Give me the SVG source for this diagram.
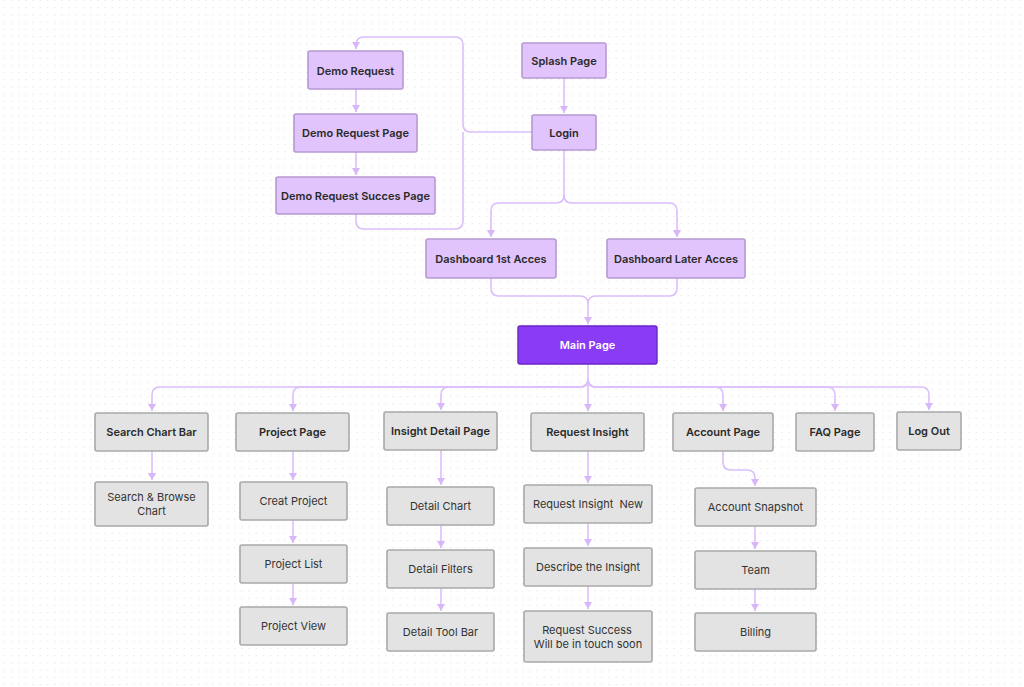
<svg xmlns="http://www.w3.org/2000/svg" width="1024" height="687" viewBox="0 0 1024 687">
<defs>
<pattern id="dots" x="0" y="0" width="7.2" height="7.2" patternUnits="userSpaceOnUse">
<circle cx="4.3" cy="0.4" r="0.65" fill="#e2e2e2"/>
</pattern>
<marker id="arr" markerUnits="userSpaceOnUse" markerWidth="8" markerHeight="8" refX="7" refY="4" orient="auto">
<path d="M0,0 L7,4 L0,8 z" fill="#d7b6fa"/>
</marker>
<style>
.p rect{fill:#e0c4fb;stroke:#b898d2;stroke-width:1.6}
.g rect{fill:#e3e3e3;stroke:#a9a9a9;stroke-width:1.6}
.m rect{fill:#8a3bf6;stroke:#6b25c8;stroke-width:1.4}
text{font-family:Inter,"Noto Sans","Liberation Sans",sans-serif;font-size:11px;text-anchor:middle;dominant-baseline:central}
.p text,.g.b text{font-weight:600;fill:#2a2a2a}
.g text{fill:#333}
.m text{font-weight:600;fill:#fff}
#connectors path{fill:none;stroke:#dcbefb;stroke-width:1.6}
#connectors path.a{marker-end:url(#arr)}
</style>
</defs>
<rect width="1024" height="687" fill="#ffffff"/>
<rect width="1024" height="687" fill="url(#dots)"/>

<g id="connectors">
<path class="a" d="M532,132 H471 Q463,132 463,124 V45 Q463,37 455,37 H364 Q356,37 356,45 V49"/>
<path d="M356,214 V221 Q356,229 364,229 H455 Q463,229 463,221 V132"/>
<path class="a" d="M356,89 V112"/>
<path class="a" d="M356,152 V175"/>
<path class="a" d="M564,78 V113"/>
<path class="a" d="M564,150 V195 Q564,203 556,203 H499 Q491,203 491,211 V237"/>
<path class="a" d="M564,195 Q564,203 572,203 H669 Q677,203 677,211 V237"/>
<path class="a" d="M491,278 V288 Q491,296 499,296 H580 Q588,296 588,304 V324"/>
<path d="M677,278 V288 Q677,296 669,296 H596 Q588,296 588,304"/>
<path class="a" d="M588,364 V411"/>
<path class="a" d="M588,379 Q588,387 580,387 H160 Q152,387 152,395 V411"/>
<path class="a" d="M588,379 Q588,387 580,387 H301 Q293,387 293,395 V411"/>
<path class="a" d="M588,379 Q588,387 580,387 H449 Q441,387 441,395 V410"/>
<path class="a" d="M588,379 Q588,387 596,387 H715 Q723,387 723,395 V411"/>
<path class="a" d="M588,379 Q588,387 596,387 H827 Q835,387 835,395 V411"/>
<path class="a" d="M588,379 Q588,387 596,387 H921 Q929,387 929,395 V410"/>
<path class="a" d="M152,451 V480"/>
<path class="a" d="M293,451 V480"/>
<path class="a" d="M293,520 V543"/>
<path class="a" d="M293,583 V605"/>
<path class="a" d="M441,450 V485"/>
<path class="a" d="M441,525 V548"/>
<path class="a" d="M441,588 V611"/>
<path class="a" d="M588,451 V483"/>
<path class="a" d="M588,523 V546"/>
<path class="a" d="M588,586 V609"/>
<path class="a" d="M723,451 V462 Q723,470 731,470 H747 Q755,470 755,478 V486"/>
<path class="a" d="M755,526 V549"/>
<path class="a" d="M755,589 V611"/>
</g>

<g id="demo-request" class="p"><rect x="308" y="51" width="95" height="38" rx="2"/><text x="355.5" y="70.5">Demo Request</text></g>
<g id="splash-page" class="p"><rect x="522" y="43" width="84" height="35" rx="2"/><text x="564" y="60.5">Splash Page</text></g>
<g id="demo-request-page" class="p"><rect x="294" y="114" width="123" height="38" rx="2"/><text x="355.5" y="133">Demo Request Page</text></g>
<g id="login" class="p"><rect x="532" y="115" width="64" height="35" rx="2"/><text x="564" y="132.5">Login</text></g>
<g id="demo-request-succes-page" class="p"><rect x="276" y="177" width="159" height="37" rx="2"/><text x="355.5" y="196">Demo Request Succes Page</text></g>
<g id="dashboard-1st" class="p"><rect x="426" y="239" width="130" height="39" rx="2"/><text x="491" y="258.5">Dashboard 1st Acces</text></g>
<g id="dashboard-later" class="p"><rect x="607" y="239" width="138" height="39" rx="2"/><text x="676" y="258.5">Dashboard Later Acces</text></g>
<g id="main-page" class="m"><rect x="518" y="326" width="139" height="38" rx="2"/><text x="587.5" y="345">Main Page</text></g>

<g id="search-chart-bar" class="g b"><rect x="95" y="413" width="113" height="38" rx="2"/><text x="151.5" y="432">Search Chart Bar</text></g>
<g id="project-page" class="g b"><rect x="236" y="413" width="113" height="38" rx="2"/><text x="292.5" y="432">Project Page</text></g>
<g id="insight-detail-page" class="g b"><rect x="384" y="412" width="113" height="38" rx="2"/><text x="440.5" y="431">Insight Detail Page</text></g>
<g id="request-insight" class="g b"><rect x="531" y="413" width="113" height="38" rx="2"/><text x="587.5" y="432">Request Insight</text></g>
<g id="account-page" class="g b"><rect x="673" y="413" width="100" height="38" rx="2"/><text x="723" y="432">Account Page</text></g>
<g id="faq-page" class="g b"><rect x="796" y="413" width="78" height="38" rx="2"/><text x="835" y="432">FAQ Page</text></g>
<g id="log-out" class="g b"><rect x="897" y="412" width="64" height="38" rx="2"/><text x="929" y="431">Log Out</text></g>

<g id="search-browse-chart" class="g"><rect x="95" y="482" width="113" height="44" rx="2"/><text x="151.5" y="497">Search &amp; Browse</text><text x="151.5" y="511">Chart</text></g>
<g id="creat-project" class="g"><rect x="240" y="482" width="107" height="38" rx="2"/><text x="293.5" y="501">Creat Project</text></g>
<g id="project-list" class="g"><rect x="240" y="545" width="107" height="38" rx="2"/><text x="293.5" y="564">Project List</text></g>
<g id="project-view" class="g"><rect x="240" y="607" width="107" height="38" rx="2"/><text x="293.5" y="626">Project View</text></g>
<g id="detail-chart" class="g"><rect x="387" y="487" width="107" height="38" rx="2"/><text x="440.5" y="506">Detail Chart</text></g>
<g id="detail-filters" class="g"><rect x="387" y="550" width="107" height="38" rx="2"/><text x="440.5" y="569">Detail Filters</text></g>
<g id="detail-tool-bar" class="g"><rect x="387" y="613" width="107" height="38" rx="2"/><text x="440.5" y="632">Detail Tool Bar</text></g>
<g id="request-insight-new" class="g"><rect x="524" y="485" width="128" height="38" rx="2"/><text x="588" y="504" xml:space="preserve">Request Insight  New</text></g>
<g id="describe-the-insight" class="g"><rect x="524" y="548" width="128" height="38" rx="2"/><text x="588" y="567">Describe the Insight</text></g>
<g id="request-success" class="g"><rect x="524" y="611" width="128" height="51" rx="2"/><text x="587" y="629.5">Request Success</text><text x="588" y="644">Will be in touch soon</text></g>
<g id="account-snapshot" class="g"><rect x="695" y="488" width="121" height="38" rx="2"/><text x="755.5" y="507">Account Snapshot</text></g>
<g id="team" class="g"><rect x="695" y="551" width="121" height="38" rx="2"/><text x="755.5" y="570">Team</text></g>
<g id="billing" class="g"><rect x="695" y="613" width="121" height="38" rx="2"/><text x="755.5" y="632">Billing</text></g>
</svg>
